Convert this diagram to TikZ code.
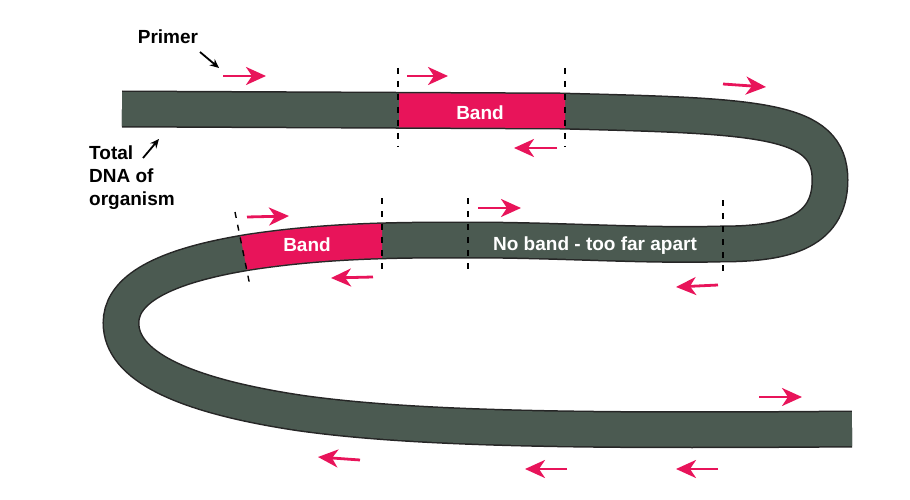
\documentclass[tikz,border=0pt]{standalone}
\usepackage{fontspec}
\newfontfamily\labelfont{Liberation Sans}
\usepackage{tikz}
\usetikzlibrary{arrows.meta}

\definecolor{bandpink}{HTML}{E8145A}
\definecolor{dnagrey}{HTML}{4B5A51}

\tikzset{
  dnaline/.style={insert path={(122,109) -- (560,111)
      .. controls (760,116) and (830,118) .. (830,180)
      .. controls (830,235) and (780,244) .. (720,244)
      .. controls (640,246) and (560,240) .. (470,240)
      .. controls (400,240) and (330,240) .. (250,252)
      .. controls (150,268) and (121,295) .. (121,323)
      .. controls (121,365) and (180,395) .. (300,413)
      .. controls (420,430) and (600,431) .. (852,429)}},
  primer/.style={line width=2.8pt, draw=bandpink, -{Stealth[length=20pt,width=18pt,inset=6pt]}},
  pointer/.style={line width=1.8pt, -{Stealth[length=9pt,width=8pt]}},
  cutline/.style={line width=1.4pt, dash pattern=on 6pt off 7pt},
  lbl/.style={font=\labelfont\bfseries\fontsize{19}{23}\selectfont, inner sep=0pt},
}

\begin{document}
\begin{tikzpicture}[x=1pt,y=-1pt]
  \useasboundingbox (0,0) rectangle (910,500);

  % -------------------------
  % DNA strand
  % -------------------------
  \draw[line width=37pt, black!85] [dnaline];
  \draw[line width=34pt, dnagrey] [dnaline];

  % Bands
  \begin{scope}
    \clip (399,60) rectangle (565,160);
    \draw[line width=34pt, bandpink] [dnaline];
  \end{scope}
  \begin{scope}
    \clip (232,195) -- (253,300) -- (382,300) -- (382,195) -- cycle;
    \draw[line width=34pt, bandpink] [dnaline];
  \end{scope}

  % Dashed cut positions
  \draw[cutline] (398,68) -- (398,147);
  \draw[cutline] (565,68) -- (565,147);
  \draw[cutline] (235,212) -- (250,286);
  \draw[cutline] (382,198) -- (382,276);
  \draw[cutline] (468,198) -- (468,276);
  \draw[cutline] (723,200) -- (723,278);

  % Primers
  \foreach \xa/\ya/\xb/\yb in {223/76/266/76, 407/76/448/76, 723/84/766/87,
                               247/217/289/216, 478/208/521/208, 759/397/802/397,
                               557/148/514/148, 373/277/331/278, 718/285/676/287,
                               360/460/318/457, 567/469/525/469, 718/469/676/469}
    \draw[primer] (\xa,\ya) -- (\xb,\yb);

  % Band labels
  \node[lbl, text=white] (band1) at (480,113) {Band};
  \node[lbl, text=white] (band2) at (307,245) {Band};
  \node[lbl, text=white] (noband) at (595,246) {No band - too far apart};

  % Side labels
  \node[lbl] (primer) at (168,37) {Primer};
  \node[lbl, align=left, anchor=west] (total) at (89,178) {Total\\DNA of\\organism};
  \coordinate (primertip) at (219,68);
  \coordinate (totaltip) at (159,139);
  \draw[pointer] (200,52) -- (primertip);
  \draw[pointer] (143,158) -- (totaltip);
\end{tikzpicture}
\end{document}
